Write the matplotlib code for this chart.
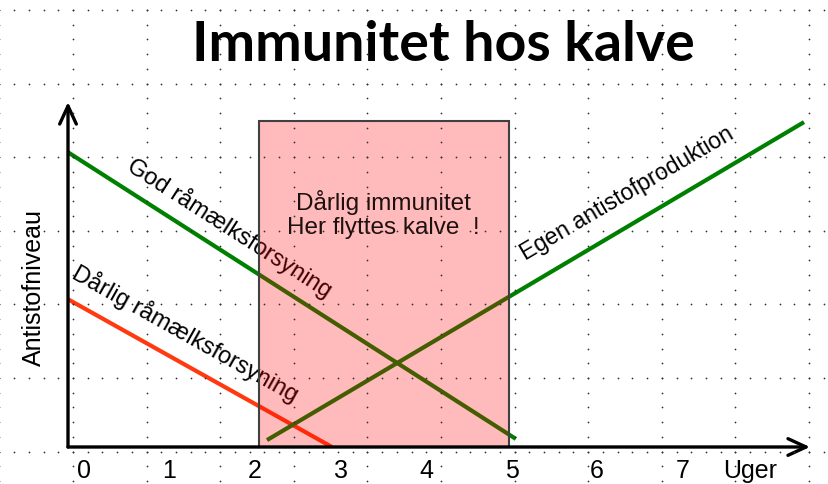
import numpy as np
import matplotlib.pyplot as plt
from matplotlib.patches import Rectangle

plt.rcParams['font.family'] = ['Liberation Sans', 'DejaVu Sans']

# weeks on the x axis and the label text
week_ticks = [0, 1, 2, 3, 4, 5, 6, 7, 7.79]
week_labels = ['0', '1', '2', '3', '4', '5', '6', '7', 'Uger']

# antibody level lines (x in weeks, y in relative units)
good_x = [-0.19, 5.05]
good_y = [9.83, 0.27]
poor_x = [-0.19, 2.90]
poor_y = [4.93, 0.0]
own_x = [2.14, 8.42]
own_y = [0.23, 10.83]

# weak-immunity window
window_start = 2.05
window_end = 4.97
window_top = 10.87

fig = plt.figure(figsize=(8.29, 4.85), dpi=100)
fig.patch.set_facecolor('white')

ax = fig.add_axes([68 / 829, 1 - 448 / 485, (810 - 68) / 829, (448 - 103) / 485])
ax.set_xlim(-0.187, 8.49)
ax.set_ylim(0, 11.5)
ax.patch.set_alpha(0)
for s in ax.spines.values():
    s.set_visible(False)
ax.set_yticks([])
ax.set_xticks(week_ticks)
ax.set_xticklabels(week_labels, fontsize=18)
ax.tick_params(axis='x', length=0, pad=8)

# lines
ax.plot(good_x, good_y, color='#008000', lw=3, solid_capstyle='butt', zorder=2)
ax.plot(poor_x, poor_y, color='#ff3a10', lw=3, solid_capstyle='butt', zorder=2)
ax.plot(own_x, own_y, color='#008000', lw=3, solid_capstyle='butt', zorder=2)

# line labels
ax.text(1.71, 7.33, 'God råmælksforsyning', rotation=-32.7, rotation_mode='anchor',
        ha='center', va='center', fontsize=17, color='black', zorder=3)
ax.text(1.19, 3.80, 'Dårlig råmælksforsyning', rotation=-29.3, rotation_mode='anchor',
        ha='center', va='center', fontsize=17, color='black', zorder=3)
ax.text(6.35, 8.47, 'Egen antistofproduktion', rotation=30.4, rotation_mode='anchor',
        ha='center', va='center', fontsize=16.7, color='black', zorder=3)

# pink window drawn over the lines
ax.add_patch(Rectangle((window_start, 0), window_end - window_start, window_top,
                       facecolor=(1, 0, 0, 0.267), edgecolor='#404040', lw=1.5, zorder=4))
ax.text(3.50, 7.77, 'Dårlig immunitet\nHer flyttes kalve  !', ha='center', va='center',
        fontsize=17.5, color='#1f1010', linespacing=1.12, zorder=5)

# axes with arrow heads
arrow = dict(arrowstyle='->,head_length=0.65,head_width=0.3', lw=2.4, color='black',
             mutation_scale=20, shrinkA=0, shrinkB=0)
ax.annotate('', xy=(1, 0), xytext=(0, 0), xycoords='axes fraction', arrowprops=arrow, zorder=6)
ax.annotate('', xy=(0, 1), xytext=(0, 0), xycoords='axes fraction', arrowprops=arrow, zorder=6)

fig.text(34 / 829, 1 - 288 / 485, 'Antistofniveau', rotation=90, ha='center', va='center',
         fontsize=18)

fig.text(443 / 829, 1 - 61 / 485, 'Immunitet hos kalve', ha='center', va='baseline',
         fontsize=40, fontweight='bold', family=['Lato', 'DejaVu Sans'])

# dotted background grid on top of everything
grid = fig.add_axes([0, 0, 1, 1])
grid.set_xlim(0, 829)
grid.set_ylim(485, 0)
grid.axis('off')
grid.patch.set_alpha(0)
cols = np.arange(-0.6, 829, 73.6)
rows = np.arange(11, 485, 73.6)
step = 73.6 / 5
for c in cols:
    yy = np.arange(11 - 73.6, 485, step)
    grid.scatter(np.full_like(yy, c), yy, s=1.6, color='#333333', linewidths=0)
for r in rows:
    xx = np.arange(-0.6, 829, step)
    grid.scatter(xx, np.full_like(xx, r), s=1.6, color='#333333', linewidths=0)

fig.savefig('out.png', dpi=100)
